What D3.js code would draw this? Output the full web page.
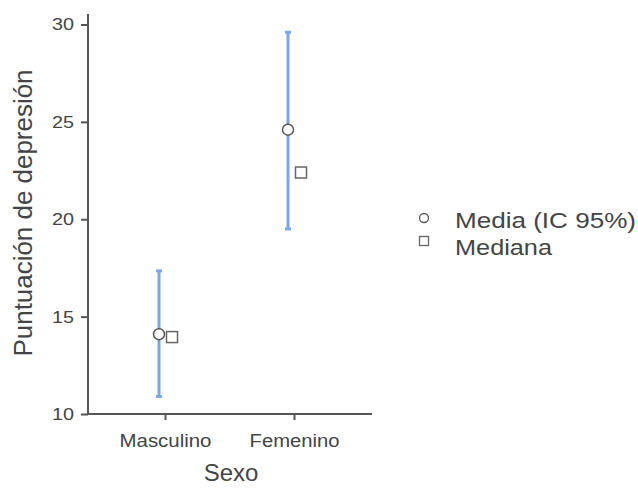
<!doctype html>
<html>
<head>
<meta charset="utf-8">
<script src="https://cdn.jsdelivr.net/npm/d3@7"></script>
<style>
  body { margin: 0; background: #fff; }
  svg { font-family: "Liberation Sans", Arial, sans-serif; }
  .axis path, .axis line { stroke: #555; stroke-width: 2; }
  .axis text { fill: #444; font-family: "Liberation Sans", Arial, sans-serif; }
</style>
</head>
<body>
<svg id="chart" width="638" height="488"></svg>
<script>
const groups = ["Masculino", "Femenino"];
const means = [14.1, 24.6];
const ciLow = [10.9, 19.5];
const ciHigh = [17.35, 29.6];
const medians = [13.95, 22.4];
const yTicks = [10, 15, 20, 25, 30];

const svg = d3.select("#chart");
const padL = 88, padR = 372, padT = 14, padB = 414;

const x = d3.scalePoint().domain(groups).range([165, 294]);
const y = d3.scaleLinear().domain([10, 30]).range([padB, 24.5]);

// axes
svg.append("g").attr("class", "axis")
  .attr("transform", "translate(" + padL + ",0)")
  .call(d3.axisLeft(y).tickValues(yTicks).tickSize(7).tickPadding(7))
  .call(g => g.select(".domain").attr("d", "M0," + padT + "V" + padB))
  .call(g => g.selectAll("text").style("font-size", "17px")
    .attr("textLength", 22).attr("lengthAdjust", "spacingAndGlyphs"));

svg.append("g").attr("class", "axis")
  .attr("transform", "translate(0," + padB + ")")
  .call(d3.axisBottom(x).tickSize(6).tickPadding(0))
  .call(g => g.select(".domain").attr("d", "M" + padL + ",0H" + padR))
  .call(g => g.selectAll("text").attr("dy", null).attr("y", 33)
    .style("font-size", "17.5px")
    .attr("textLength", d => d === "Masculino" ? 92 : 90)
    .attr("lengthAdjust", "spacingAndGlyphs"));

const off = 6;

// error bars
groups.forEach((g, i) => {
  const cx = x(g) - off;
  svg.append("line").attr("x1", cx).attr("x2", cx)
    .attr("y1", y(ciLow[i])).attr("y2", y(ciHigh[i]))
    .attr("stroke", "#7aa7ea").attr("stroke-width", 3);
  [ciLow[i], ciHigh[i]].forEach(v => {
    svg.append("line").attr("x1", cx - 3).attr("x2", cx + 3)
      .attr("y1", y(v)).attr("y2", y(v))
      .attr("stroke", "#7aa7ea").attr("stroke-width", 3);
  });
});

// medians
svg.selectAll(".med").data(groups).enter().append("rect")
  .attr("x", (d) => x(d) + off + 1 - 5.5)
  .attr("y", (d, i) => y(medians[i]) - 5.5)
  .attr("width", 11).attr("height", 11)
  .attr("fill", "#fff").attr("stroke", "#666").attr("stroke-width", 1.5);

// means
svg.selectAll(".mean").data(groups).enter().append("circle")
  .attr("cx", d => x(d) - off)
  .attr("cy", (d, i) => y(means[i]))
  .attr("r", 5.5)
  .attr("fill", "#fff").attr("stroke", "#555").attr("stroke-width", 1.5);

// axis titles
svg.append("text").attr("x", 231).attr("y", 481)
  .attr("text-anchor", "middle").attr("fill", "#444").style("font-size", "24px").text("Sexo");
svg.append("text").attr("transform", "translate(32,213) rotate(-90)")
  .attr("text-anchor", "middle").attr("fill", "#444").style("font-size", "25.5px")
  .attr("textLength", 287).attr("lengthAdjust", "spacingAndGlyphs")
  .text("Puntuación de depresión");

// legend
const leg = svg.append("g").attr("transform", "translate(424,218)");
leg.append("circle").attr("cx", 0).attr("cy", 0).attr("r", 4.5)
  .attr("fill", "#fff").attr("stroke", "#555").attr("stroke-width", 1.3);
leg.append("rect").attr("x", -4.5).attr("y", 18.5).attr("width", 9).attr("height", 9)
  .attr("fill", "#fff").attr("stroke", "#666").attr("stroke-width", 1.3);
leg.append("text").attr("x", 31).attr("y", 9.5).attr("fill", "#444").style("font-size", "22px")
  .attr("textLength", 181).attr("lengthAdjust", "spacingAndGlyphs").text("Media (IC 95%)");
leg.append("text").attr("x", 31).attr("y", 37).attr("fill", "#444").style("font-size", "22px")
  .attr("textLength", 97).attr("lengthAdjust", "spacingAndGlyphs").text("Mediana");
</script>
</body>
</html>
